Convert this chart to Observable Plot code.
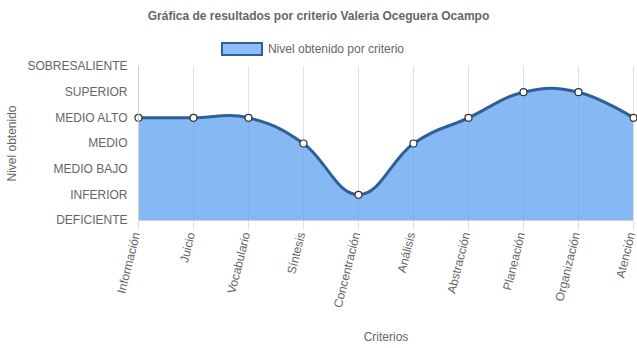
<!DOCTYPE html>
<html>
<head>
<meta charset="utf-8">
<script src="https://cdn.jsdelivr.net/npm/d3@7"></script>
<script src="https://cdn.jsdelivr.net/npm/@observablehq/plot@0.6"></script>
<style>
  body { margin: 0; background: #fff; font-family: "Liberation Sans", Arial, sans-serif; }
  #wrap { width: 637px; position: relative; }
  #title { height: 32px; line-height: 32px; text-align: center; font-size: 12px; font-weight: bold; color: #666; }
  #legend { height: 26px; display: flex; justify-content: center; align-items: center; font-size: 12px; color: #666; position: relative; top: 4px; left: -6px; }
  #legend .box { width: 38px; height: 10px; background: #8ebcf8; border: 2px solid #2f5f99; margin-right: 5px; }
  svg { display: block; }
</style>
</head>
<body>
<div id="wrap">
  <div id="title">Gráfica de resultados por criterio Valeria Oceguera Ocampo</div>
  <div id="legend"><span class="box"></span><span>Nivel obtenido por criterio</span></div>
  <div id="chart"></div>
</div>
<script>
const criterios = ["Información", "Juicio", "Vocabulario", "Síntesis", "Concentración", "Análisis", "Abstracción", "Planeación", "Organización", "Atención"];
const niveles = ["DEFICIENTE", "INFERIOR", "MEDIO BAJO", "MEDIO", "MEDIO ALTO", "SUPERIOR", "SOBRESALIENTE"];
const valores = [4, 4, 4, 3, 1, 3, 4, 5, 5, 4];

const data = criterios.map((c, i) => ({criterio: c, valor: valores[i]}));
const yTicks = niveles.map((_, i) => i);

const chart = Plot.plot({
  width: 637,
  height: 290,
  marginTop: 8,
  marginBottom: 128,
  marginLeft: 138,
  marginRight: 4,
  style: {fontFamily: '"Liberation Sans", Arial, sans-serif', fontSize: "12px", color: "#666", background: "white", overflow: "visible"},
  x: {type: "point", domain: criterios, padding: 0, label: null},
  y: {domain: [0, 6], label: null},
  marks: [
    Plot.ruleY(yTicks, {x1: 128, x2: 633, y: d => d, stroke: "#e0e0e0", strokeWidth: 1, x: null}),
    Plot.ruleX(criterios, {x: d => d, y1: 0, y2: 6, stroke: "#e0e0e0", strokeWidth: 1}),
    Plot.areaY(data, {x: "criterio", y: "valor", y1: 0, curve: "cardinal", tension: -0.2, fill: "#5ea0f0", fillOpacity: 0.75}),
    Plot.lineY(data, {x: "criterio", y: "valor", curve: "cardinal", tension: -0.2, stroke: "#2f5f99", strokeWidth: 3}),
    Plot.dot(data, {x: "criterio", y: "valor", r: 3.5, fill: "white", stroke: "#333", strokeWidth: 1.2}),
    Plot.axisY({ticks: yTicks, tickFormat: d => niveles[d], tickSize: 0, tickPadding: 11, fill: "#666", stroke: "#e0e0e0",
      label: "Nivel obtenido", labelAnchor: "center", labelArrow: "none", labelOffset: 131}),
    Plot.axisX({tickSize: 10, stroke: "#e0e0e0", text: null}),
    Plot.axisX({tickSize: 0, tickRotate: -76, tickPadding: 12, dx: -2, fill: "#666", label: null}),
    Plot.ruleX([0], {x: () => criterios[0], y1: 0, y2: 6, stroke: "#d0d0d0"}),
    Plot.ruleY([0], {stroke: "#d0d0d0"}),
    Plot.text(["Criterios"], {frameAnchor: "bottom", dy: 120, text: d => d, fill: "#666", fontSize: 12})
  ]
});
document.getElementById("chart").appendChild(chart);
</script>
</body>
</html>
